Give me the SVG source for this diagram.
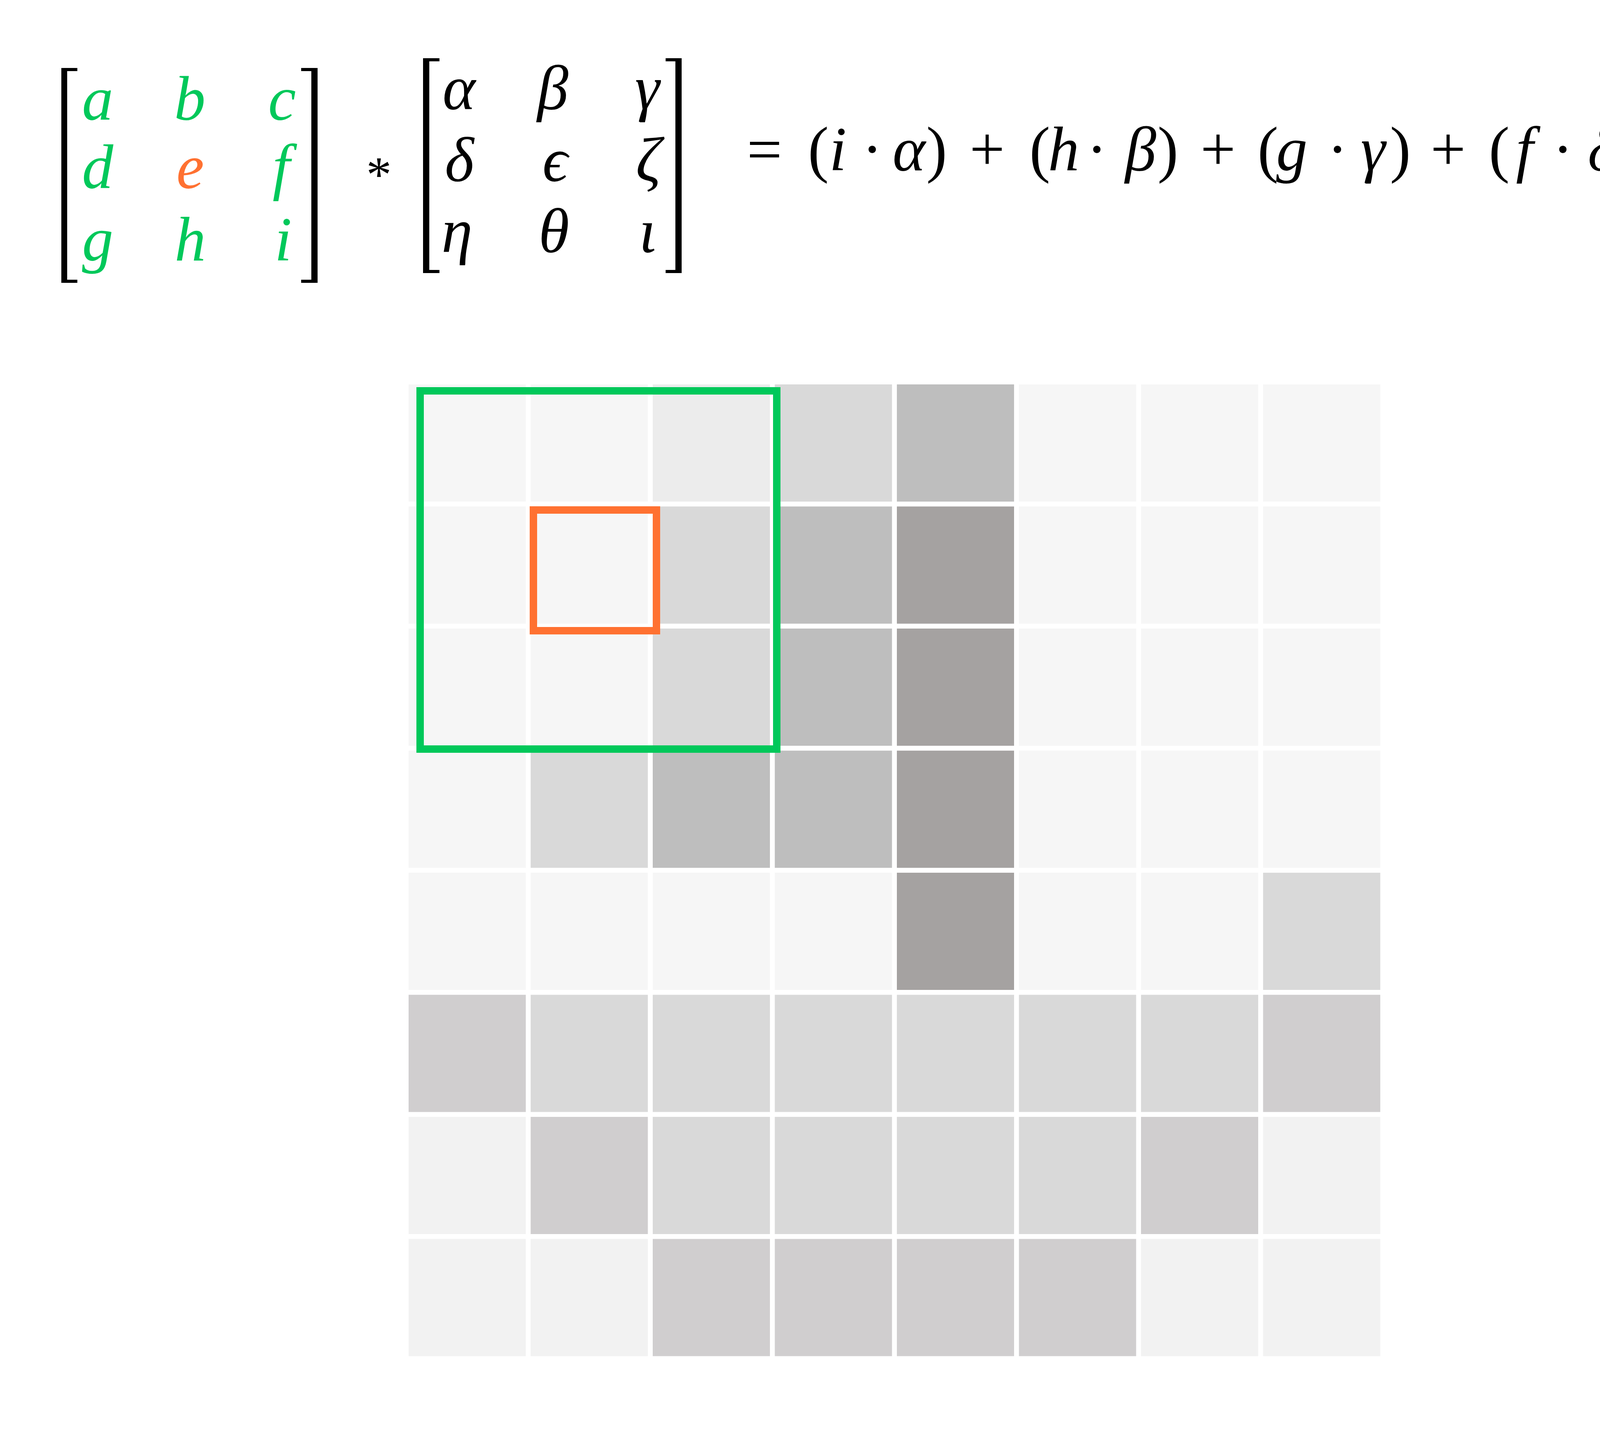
<svg xmlns="http://www.w3.org/2000/svg" width="7469" height="3658" viewBox="0 0 7469 3658">
<style>
.t{font-family:"Liberation Serif","DejaVu Serif",serif;font-size:160px;fill:#000;text-anchor:middle}
.it{font-style:italic}
.g{fill:#00c85a}
.o{fill:#ff7131}
.br{fill:#000}
.c1{fill:#f6f6f6}.c2{fill:#ececec}.c3{fill:#d9d9d9}.c4{fill:#bebebe}.c5{fill:#a5a2a1}.c6{fill:#d0cecf}.c7{fill:#f2f2f2}
.gb{fill:none;stroke:#00c85a;stroke-width:19}
.ob{fill:none;stroke:#ff7131;stroke-width:19}
</style>
<rect x="0" y="0" width="7469" height="3658" fill="#fff"/>

<g id="matrix-input">
<polygon class="br" points="157,174 198,174 198,182 172,182 172,716 198,716 198,724 157,724"/>
<polygon class="br" points="813,174 771,174 771,182 797,182 797,716 771,716 771,724 813,724"/>
<text class="t it g" y="306"><tspan x="250">a</tspan><tspan x="486">b</tspan><tspan x="722">c</tspan></text>
<text class="t it" y="481"><tspan class="g" x="250">d</tspan><tspan class="o" x="487">e</tspan><tspan class="g" x="720">f</tspan></text>
<text class="t it g" y="667"><tspan x="250">g</tspan><tspan x="487">h</tspan><tspan x="725">i</tspan></text>
</g>

<g id="operator">
<text class="t" style="font-size:130px" x="970" y="490">*</text>
</g>

<g id="matrix-kernel">
<polygon class="br" points="1083,149 1125,149 1125,157 1099,157 1099,691 1125,691 1125,699 1083,699"/>
<polygon class="br" points="1745,149 1704,149 1704,157 1729,157 1729,691 1704,691 1704,699 1745,699"/>
<text class="t it" y="279"><tspan x="1175">α</tspan><tspan x="1415">β</tspan><tspan x="1657">γ</tspan></text>
<text class="t it" y="463"><tspan x="1176">δ</tspan><tspan x="1421">ϵ</tspan><tspan x="1660">ζ</tspan></text>
<text class="t it" y="645"><tspan x="1170">η</tspan><tspan x="1418">θ</tspan><tspan x="1658">ι</tspan></text>
</g>

<g id="equation">
<text class="t" y="436"><tspan x="1957">=</tspan><tspan x="2095">(</tspan><tspan class="it" x="2145">i</tspan><tspan x="2233">·</tspan><tspan class="it" x="2327">α</tspan><tspan x="2398">)</tspan><tspan x="2527">+</tspan><tspan x="2662">(</tspan><tspan class="it" x="2723">h</tspan><tspan x="2808">·</tspan><tspan class="it" x="2920">β</tspan><tspan x="2990">)</tspan><tspan x="3118">+</tspan><tspan x="3246">(</tspan><tspan class="it" x="3307">g</tspan><tspan x="3424">·</tspan><tspan class="it" x="3515">γ</tspan><tspan x="3585">)</tspan><tspan x="3707">+</tspan><tspan x="3838">(</tspan><tspan class="it" x="3903">f</tspan><tspan x="4001">·</tspan><tspan class="it" x="4102">δ</tspan><tspan x="4167">)</tspan><tspan x="4297">+</tspan><tspan x="4425">(</tspan><tspan class="it" x="4482">e</tspan><tspan x="4534">.</tspan><tspan class="it" x="4606">ϵ</tspan><tspan x="4682">)</tspan><tspan x="4808">+</tspan><tspan x="4930">(</tspan><tspan class="it" x="5010">d</tspan><tspan x="5109">·</tspan><tspan class="it" x="5203">ζ</tspan><tspan x="5263">)</tspan><tspan x="5390">+</tspan><tspan x="5517">(</tspan><tspan class="it" x="5578">c</tspan><tspan x="5670">·</tspan><tspan class="it" x="5766">η</tspan><tspan x="5832">)</tspan><tspan x="5960">+</tspan><tspan x="6087">(</tspan><tspan class="it" x="6151">b</tspan><tspan x="6250">·</tspan><tspan class="it" x="6350">θ</tspan><tspan x="6419">)</tspan><tspan x="6547">+</tspan><tspan x="6672">(</tspan><tspan class="it" x="6740">α</tspan><tspan x="6836">·</tspan><tspan class="it" x="6921">ι</tspan><tspan x="6967">)</tspan><tspan x="7104">=</tspan><tspan class="it o" x="7237">e</tspan></text>
<text class="t o" style="font-size:95px" x="7312" y="395">*</text>
</g>

<g id="grid-input" transform="translate(1046,984)">
<rect class="c1" x="0" y="0" width="300" height="300"/><rect class="c1" x="312.5" y="0" width="300" height="300"/><rect class="c2" x="625" y="0" width="300" height="300"/><rect class="c3" x="937.5" y="0" width="300" height="300"/><rect class="c4" x="1250" y="0" width="300" height="300"/><rect class="c1" x="1562.5" y="0" width="300" height="300"/><rect class="c1" x="1875" y="0" width="300" height="300"/><rect class="c1" x="2187.5" y="0" width="300" height="300"/>
<rect class="c1" x="0" y="312.5" width="300" height="300"/><rect class="c1" x="312.5" y="312.5" width="300" height="300"/><rect class="c3" x="625" y="312.5" width="300" height="300"/><rect class="c4" x="937.5" y="312.5" width="300" height="300"/><rect class="c5" x="1250" y="312.5" width="300" height="300"/><rect class="c1" x="1562.5" y="312.5" width="300" height="300"/><rect class="c1" x="1875" y="312.5" width="300" height="300"/><rect class="c1" x="2187.5" y="312.5" width="300" height="300"/>
<rect class="c1" x="0" y="625" width="300" height="300"/><rect class="c1" x="312.5" y="625" width="300" height="300"/><rect class="c3" x="625" y="625" width="300" height="300"/><rect class="c4" x="937.5" y="625" width="300" height="300"/><rect class="c5" x="1250" y="625" width="300" height="300"/><rect class="c1" x="1562.5" y="625" width="300" height="300"/><rect class="c1" x="1875" y="625" width="300" height="300"/><rect class="c1" x="2187.5" y="625" width="300" height="300"/>
<rect class="c1" x="0" y="937.5" width="300" height="300"/><rect class="c3" x="312.5" y="937.5" width="300" height="300"/><rect class="c4" x="625" y="937.5" width="300" height="300"/><rect class="c4" x="937.5" y="937.5" width="300" height="300"/><rect class="c5" x="1250" y="937.5" width="300" height="300"/><rect class="c1" x="1562.5" y="937.5" width="300" height="300"/><rect class="c1" x="1875" y="937.5" width="300" height="300"/><rect class="c1" x="2187.5" y="937.5" width="300" height="300"/>
<rect class="c1" x="0" y="1250" width="300" height="300"/><rect class="c1" x="312.5" y="1250" width="300" height="300"/><rect class="c1" x="625" y="1250" width="300" height="300"/><rect class="c1" x="937.5" y="1250" width="300" height="300"/><rect class="c5" x="1250" y="1250" width="300" height="300"/><rect class="c1" x="1562.5" y="1250" width="300" height="300"/><rect class="c1" x="1875" y="1250" width="300" height="300"/><rect class="c3" x="2187.5" y="1250" width="300" height="300"/>
<rect class="c6" x="0" y="1562.5" width="300" height="300"/><rect class="c3" x="312.5" y="1562.5" width="300" height="300"/><rect class="c3" x="625" y="1562.5" width="300" height="300"/><rect class="c3" x="937.5" y="1562.5" width="300" height="300"/><rect class="c3" x="1250" y="1562.5" width="300" height="300"/><rect class="c3" x="1562.5" y="1562.5" width="300" height="300"/><rect class="c3" x="1875" y="1562.5" width="300" height="300"/><rect class="c6" x="2187.5" y="1562.5" width="300" height="300"/>
<rect class="c7" x="0" y="1875" width="300" height="300"/><rect class="c6" x="312.5" y="1875" width="300" height="300"/><rect class="c3" x="625" y="1875" width="300" height="300"/><rect class="c3" x="937.5" y="1875" width="300" height="300"/><rect class="c3" x="1250" y="1875" width="300" height="300"/><rect class="c3" x="1562.5" y="1875" width="300" height="300"/><rect class="c6" x="1875" y="1875" width="300" height="300"/><rect class="c7" x="2187.5" y="1875" width="300" height="300"/>
<rect class="c7" x="0" y="2187.5" width="300" height="300"/><rect class="c7" x="312.5" y="2187.5" width="300" height="300"/><rect class="c6" x="625" y="2187.5" width="300" height="300"/><rect class="c6" x="937.5" y="2187.5" width="300" height="300"/><rect class="c6" x="1250" y="2187.5" width="300" height="300"/><rect class="c6" x="1562.5" y="2187.5" width="300" height="300"/><rect class="c7" x="1875" y="2187.5" width="300" height="300"/><rect class="c7" x="2187.5" y="2187.5" width="300" height="300"/>
</g>
<g id="window-input">
<rect class="gb" x="1075.5" y="1000.5" width="913" height="917"/>
<rect class="ob" x="1365.5" y="1305.5" width="315" height="309"/>
</g>

<g id="grid-output" transform="translate(4472,972)">
<rect class="c1" x="0" y="0" width="300" height="300"/><rect class="c1" x="312.5" y="0" width="300" height="300"/><rect class="c2" x="625" y="0" width="300" height="300"/><rect class="c3" x="937.5" y="0" width="300" height="300"/><rect class="c4" x="1250" y="0" width="300" height="300"/><rect class="c1" x="1562.5" y="0" width="300" height="300"/><rect class="c1" x="1875" y="0" width="300" height="300"/><rect class="c1" x="2187.5" y="0" width="300" height="300"/>
<rect class="c1" x="0" y="312.5" width="300" height="300"/><rect class="c3" x="312.5" y="312.5" width="300" height="300"/><rect class="c3" x="625" y="312.5" width="300" height="300"/><rect class="c4" x="937.5" y="312.5" width="300" height="300"/><rect class="c5" x="1250" y="312.5" width="300" height="300"/><rect class="c1" x="1562.5" y="312.5" width="300" height="300"/><rect class="c1" x="1875" y="312.5" width="300" height="300"/><rect class="c1" x="2187.5" y="312.5" width="300" height="300"/>
<rect class="c1" x="0" y="625" width="300" height="300"/><rect class="c1" x="312.5" y="625" width="300" height="300"/><rect class="c3" x="625" y="625" width="300" height="300"/><rect class="c4" x="937.5" y="625" width="300" height="300"/><rect class="c5" x="1250" y="625" width="300" height="300"/><rect class="c1" x="1562.5" y="625" width="300" height="300"/><rect class="c1" x="1875" y="625" width="300" height="300"/><rect class="c1" x="2187.5" y="625" width="300" height="300"/>
<rect class="c1" x="0" y="937.5" width="300" height="300"/><rect class="c3" x="312.5" y="937.5" width="300" height="300"/><rect class="c4" x="625" y="937.5" width="300" height="300"/><rect class="c4" x="937.5" y="937.5" width="300" height="300"/><rect class="c5" x="1250" y="937.5" width="300" height="300"/><rect class="c1" x="1562.5" y="937.5" width="300" height="300"/><rect class="c1" x="1875" y="937.5" width="300" height="300"/><rect class="c1" x="2187.5" y="937.5" width="300" height="300"/>
<rect class="c1" x="0" y="1250" width="300" height="300"/><rect class="c1" x="312.5" y="1250" width="300" height="300"/><rect class="c1" x="625" y="1250" width="300" height="300"/><rect class="c1" x="937.5" y="1250" width="300" height="300"/><rect class="c5" x="1250" y="1250" width="300" height="300"/><rect class="c1" x="1562.5" y="1250" width="300" height="300"/><rect class="c1" x="1875" y="1250" width="300" height="300"/><rect class="c3" x="2187.5" y="1250" width="300" height="300"/>
<rect class="c6" x="0" y="1562.5" width="300" height="300"/><rect class="c3" x="312.5" y="1562.5" width="300" height="300"/><rect class="c3" x="625" y="1562.5" width="300" height="300"/><rect class="c3" x="937.5" y="1562.5" width="300" height="300"/><rect class="c3" x="1250" y="1562.5" width="300" height="300"/><rect class="c3" x="1562.5" y="1562.5" width="300" height="300"/><rect class="c3" x="1875" y="1562.5" width="300" height="300"/><rect class="c6" x="2187.5" y="1562.5" width="300" height="300"/>
<rect class="c7" x="0" y="1875" width="300" height="300"/><rect class="c6" x="312.5" y="1875" width="300" height="300"/><rect class="c3" x="625" y="1875" width="300" height="300"/><rect class="c3" x="937.5" y="1875" width="300" height="300"/><rect class="c3" x="1250" y="1875" width="300" height="300"/><rect class="c3" x="1562.5" y="1875" width="300" height="300"/><rect class="c6" x="1875" y="1875" width="300" height="300"/><rect class="c7" x="2187.5" y="1875" width="300" height="300"/>
<rect class="c7" x="0" y="2187.5" width="300" height="300"/><rect class="c7" x="312.5" y="2187.5" width="300" height="300"/><rect class="c6" x="625" y="2187.5" width="300" height="300"/><rect class="c6" x="937.5" y="2187.5" width="300" height="300"/><rect class="c6" x="1250" y="2187.5" width="300" height="300"/><rect class="c6" x="1562.5" y="2187.5" width="300" height="300"/><rect class="c7" x="1875" y="2187.5" width="300" height="300"/><rect class="c7" x="2187.5" y="2187.5" width="300" height="300"/>
</g>
<g id="window-output">
<rect class="gb" x="4494.5" y="975.5" width="914" height="918"/>
<rect class="ob" x="4784.5" y="1281.5" width="316" height="310"/>
</g>

<g id="connectors"></g>
</svg>
